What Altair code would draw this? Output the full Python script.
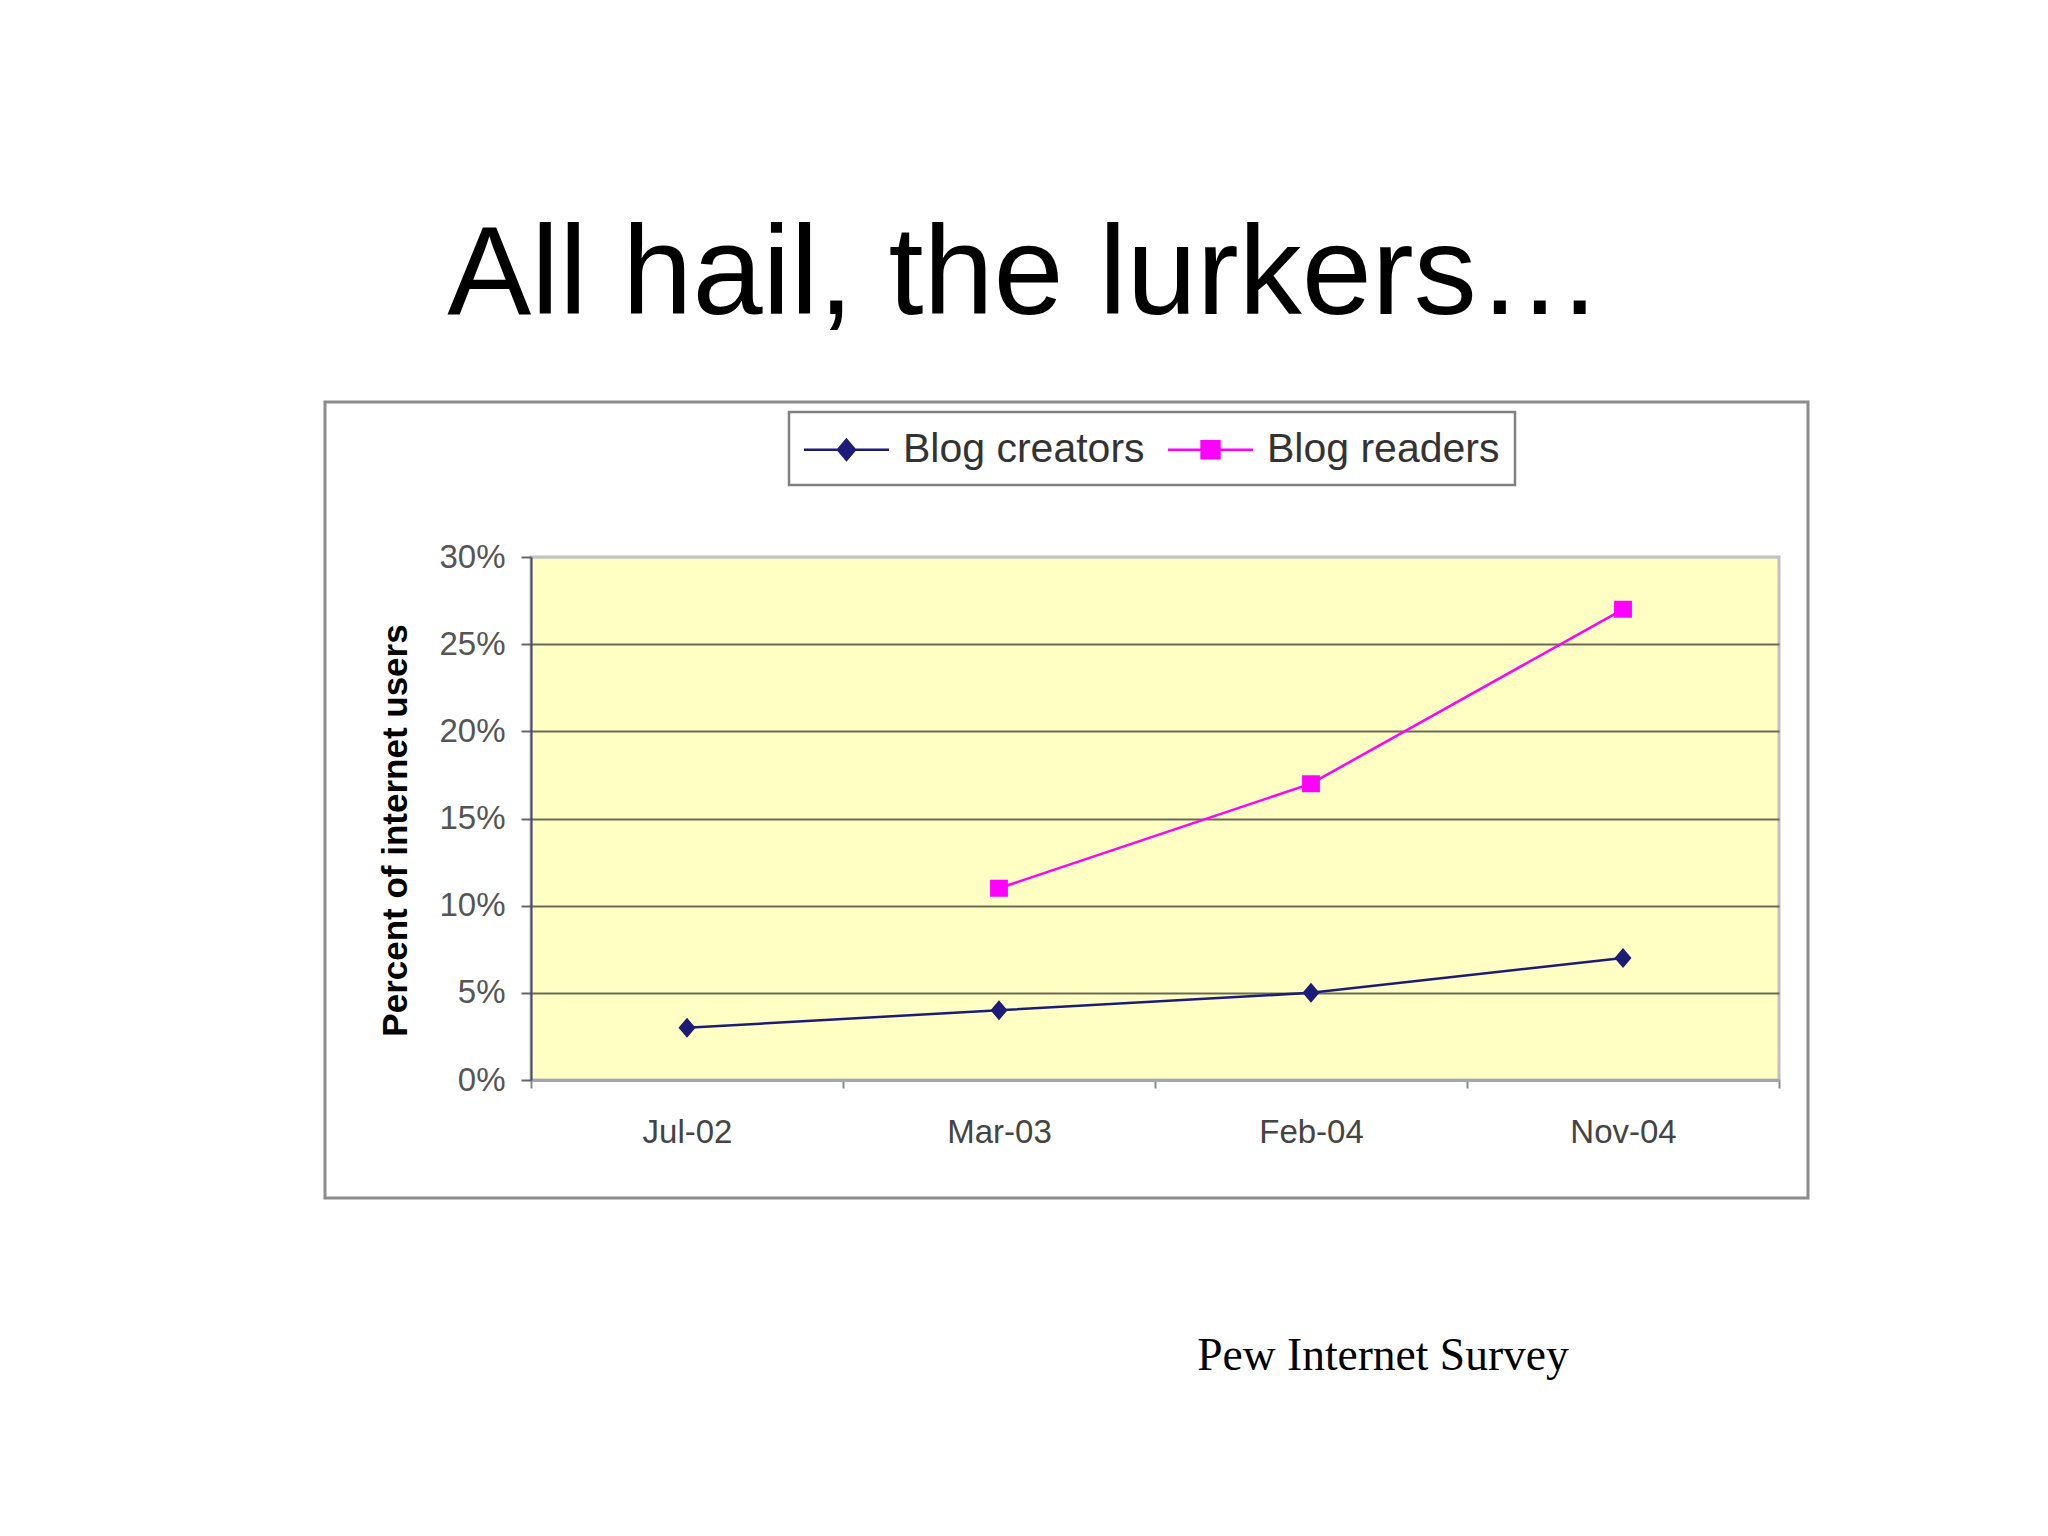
import altair as alt
import pandas as pd

# ---- data ----
dates = ["Jul-02", "Mar-03", "Feb-04", "Nov-04"]
creators = [0.03, 0.04, 0.05, 0.07]
readers = [None, 0.11, 0.17, 0.27]
series_names = ["Blog creators", "Blog readers"]
series_colors = ["#1c1c78", "#ff00ff"]
y_ticks = [0, 0.05, 0.10, 0.15, 0.20, 0.25, 0.30]
title_text = ["All hail, the lurkers…"]
source_text = ["Pew Internet Survey"]

rows = []
for d, c, r in zip(dates, creators, readers):
    rows.append({"date": d, "series": series_names[0], "value": c})
    if r is not None:
        rows.append({"date": d, "series": series_names[1], "value": r})
df = pd.DataFrame(rows)

W, H = 1248, 523
FONT = "Liberation Sans"

# marker paths: a stroke-only horizontal segment (visible only where a stroke is set,
# i.e. in the legend) plus a filled marker
MARK_DIAMOND = "M-2,0L2,0M0,-0.47L0.4,0L0,0.47L-0.4,0Z"
MARK_SQUARE = "M-2,0L2,0M-0.42,-0.4L0.42,-0.4L0.42,0.4L-0.42,0.4Z"

x_enc = alt.X(
    "date:N",
    sort=dates,
    bandPosition=0.5,
    scale=alt.Scale(type="band", domain=dates, paddingInner=0, paddingOuter=0),
    axis=alt.Axis(
        title=None, labelAngle=0, labelFont=FONT, labelFontSize=33,
        labelColor="#444444", labelPadding=28, tickBand="extent",
        tickSize=8, tickColor="#888888", tickWidth=2,
        domainColor="#a4a4b4", domainWidth=3, grid=False,
    ),
)
y_enc = alt.Y(
    "value:Q",
    scale=alt.Scale(domain=[0, 0.3], nice=False, zero=True),
    axis=alt.Axis(
        values=y_ticks, format=".0%", labelFont=FONT, labelFontSize=33,
        labelColor="#555555", labelPadding=16, tickSize=10,
        tickColor="#666666", tickWidth=2, domainColor="#4a4a66",
        domainWidth=2, grid=True,
        gridColor={"condition": {"test": "datum.value >= 0.29", "value": "#c4c4c4"},
                   "value": "#6a6a56"},
        gridWidth=2,
        title="Percent of internet users", titleFont=FONT, titleFontSize=35,
        titleFontWeight="bold", titleColor="black", titleAngle=270,
        titleX=-125, titleY=273, titleAlign="center", titleBaseline="alphabetic",
    ),
)

leg = alt.Legend(
    title=None, orient="none", legendX=258, legendY=-145, direction="horizontal",
    symbolSize=1806, symbolOffset=20, labelOffset=34, symbolStrokeWidth=2.5,
    labelFont=FONT, labelFontSize=41, labelColor="#333333",
    labelLimit=600, padding=15, columnPadding=18, fillColor="white",
    strokeColor="#808080",
)

frame = alt.Chart(pd.DataFrame({"k": [0]})).mark_rect(
    fill="transparent", stroke="#8c8c8c", strokeWidth=3
).encode(x=alt.value(-206), x2=alt.value(1277), y=alt.value(-155), y2=alt.value(641))

lines = alt.Chart(df).mark_line(strokeWidth=2.5).encode(
    x=x_enc, y=y_enc,
    color=alt.Color("series:N", scale=alt.Scale(domain=series_names, range=series_colors), legend=leg),
)

points = alt.Chart(df).mark_point(filled=True, size=1806, opacity=1).encode(
    x=x_enc, y=y_enc,
    fill=alt.Fill("series:N", scale=alt.Scale(domain=series_names, range=series_colors), legend=leg),
    shape=alt.Shape("series:N", scale=alt.Scale(domain=series_names, range=[MARK_DIAMOND, MARK_SQUARE]), legend=leg),
)

title = alt.Chart(pd.DataFrame({"t": title_text})).mark_text(
    font=FONT, fontSize=126, align="center", baseline="alphabetic", color="black"
).encode(text="t:N", x=alt.value(494), y=alt.value(-243))

source = alt.Chart(pd.DataFrame({"t": source_text})).mark_text(
    font="Liberation Serif", fontSize=45.5, align="center", baseline="alphabetic", color="black"
).encode(text="t:N", x=alt.value(852), y=alt.value(813))

chart = alt.layer(frame, lines, points, title, source).properties(
    width=W, height=H,
    autosize=alt.AutoSizeParams(type="none"),
    padding={"left": 523, "top": 549, "right": 240, "bottom": 420},
    background="white",
).configure_view(
    fill="#ffffc4", stroke="#c0c0c0", strokeWidth=3
).configure_legend(strokeWidth=2.5)

chart.save("out.html", embed_options={"renderer": "svg", "actions": False})
